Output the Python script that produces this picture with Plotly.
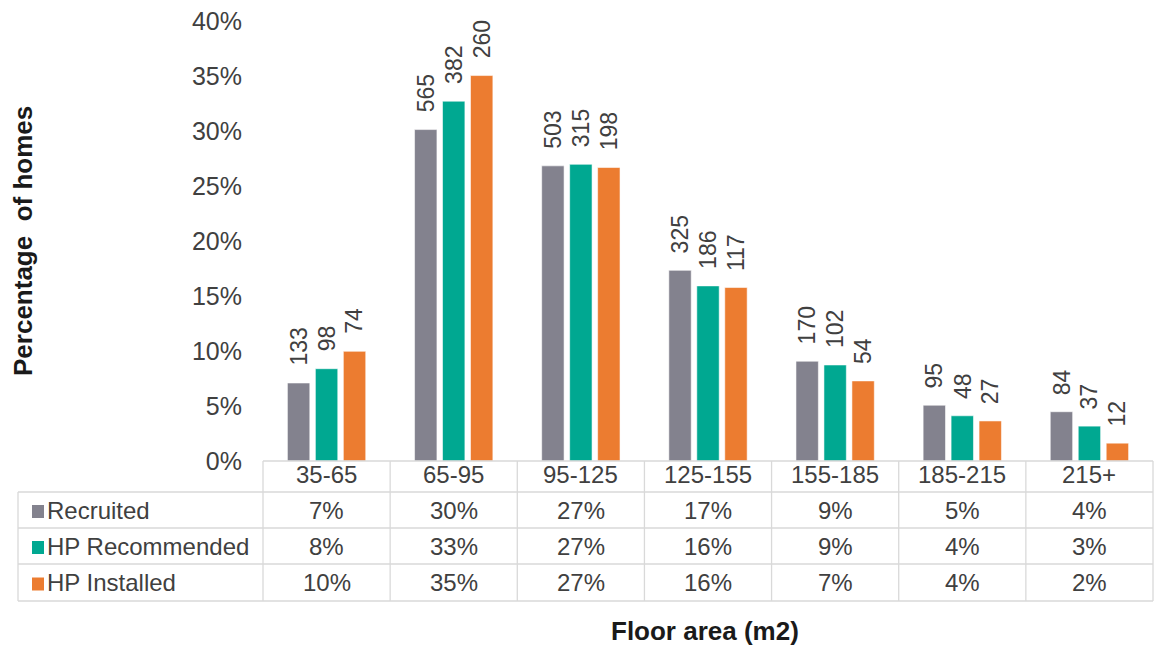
import plotly.graph_objects as go

# ---- data -------------------------------------------------------------
categories = ["35-65", "65-95", "95-125", "125-155", "155-185", "185-215", "215+"]
series_names = ["Recruited", "HP Recommended", "HP Installed"]

recruited_counts = [133, 565, 503, 325, 170, 95, 84]
recommended_counts = [98, 382, 315, 186, 102, 48, 37]
installed_counts = [74, 260, 198, 117, 54, 27, 12]

recruited_pct = [7.09, 30.13, 26.83, 17.33, 9.07, 5.07, 4.48]
recommended_pct = [8.39, 32.71, 26.97, 15.92, 8.73, 4.11, 3.17]
installed_pct = [9.97, 35.04, 26.68, 15.77, 7.28, 3.64, 1.62]

y_ticks = [0, 5, 10, 15, 20, 25, 30, 35, 40]
y_tick_labels = ["0%", "5%", "10%", "15%", "20%", "25%", "30%", "35%", "40%"]

# ---- styling ----------------------------------------------------------
W, H = 1175, 648
M_L, M_R, M_T, M_B = 263, 22, 21, 187
PLOT_W = W - M_L - M_R
PLOT_H = H - M_T - M_B
CAT_W = PLOT_W / len(categories)
BARGAP = 0.34
SLOT = (1 - BARGAP) * CAT_W / 3

FONT = "Liberation Sans, Arial, sans-serif"
TXT = "#404040"
GRID = "#d9d9d9"
colors = ["#83828e", "#00a891", "#ec7c30"]

counts = [recruited_counts, recommended_counts, installed_counts]
pcts = [recruited_pct, recommended_pct, installed_pct]


def py(p):
    """pixel row -> paper y"""
    return (H - M_B - p) / PLOT_H


def px(p):
    """pixel column -> paper x"""
    return (p - M_L) / PLOT_W


fig = go.Figure()
for name, vals, col in zip(series_names, pcts, colors):
    fig.add_trace(go.Bar(
        x=categories, y=vals, name=name,
        marker=dict(color=col, line=dict(color="rgba(255,255,255,0.55)", width=1)),
        showlegend=False, hoverinfo="skip",
    ))

annotations = []
shapes = []

# count labels above the bars
for s, (cnts, vals) in enumerate(zip(counts, pcts)):
    for cat, c, v in zip(categories, cnts, vals):
        annotations.append(dict(
            x=cat, y=v, xref="x", yref="y", text=str(c), showarrow=False,
            textangle=-90, xanchor="center", yanchor="bottom",
            xshift=(s - 1) * SLOT, yshift=15,
            font=dict(family=FONT, size=23, color=TXT),
        ))

# data table below the plot
row_lines = [461, 492, 528, 564, 601]
left_edge = 18
line_style = dict(color=GRID, width=1.3)

# header top border and column dividers
shapes.append(dict(type="line", xref="paper", yref="paper", x0=0, x1=1,
                   y0=py(row_lines[0]), y1=py(row_lines[0]), line=line_style))
for i in range(len(categories) + 1):
    shapes.append(dict(type="line", xref="paper", yref="paper",
                       x0=i / len(categories), x1=i / len(categories),
                       y0=py(row_lines[0]), y1=py(row_lines[-1]), line=line_style))
# row borders incl. label column
for r in row_lines[1:]:
    shapes.append(dict(type="line", xref="paper", yref="paper", x0=px(left_edge), x1=1,
                       y0=py(r), y1=py(r), line=line_style))
shapes.append(dict(type="line", xref="paper", yref="paper", x0=px(left_edge), x1=px(left_edge),
                   y0=py(row_lines[1]), y1=py(row_lines[-1]), line=line_style))

# header: category names
for i, cat in enumerate(categories):
    annotations.append(dict(
        x=(i + 0.5) / len(categories), y=py((row_lines[0] + row_lines[1]) / 2 - 2),
        xref="paper", yref="paper", text=cat, showarrow=False,
        xanchor="center", yanchor="middle",
        font=dict(family=FONT, size=24, color=TXT),
    ))

# series rows: swatch, name and rounded shares
for s, (name, vals, col) in enumerate(zip(series_names, pcts, colors)):
    top, bot = row_lines[s + 1], row_lines[s + 2]
    mid = (top + bot) / 2
    shapes.append(dict(type="rect", xref="paper", yref="paper",
                       x0=px(32), x1=px(44), y0=py(mid - 5), y1=py(mid + 8),
                       fillcolor=col, line=dict(width=0)))
    annotations.append(dict(
        x=px(45), y=py(mid), xref="paper", yref="paper", text=name, showarrow=False,
        xanchor="left", yanchor="middle",
        font=dict(family=FONT, size=24, color=TXT),
    ))
    for i, v in enumerate(vals):
        annotations.append(dict(
            x=(i + 0.5) / len(categories), y=py(mid), xref="paper", yref="paper",
            text=f"{v:.0f}%", showarrow=False, xanchor="center", yanchor="middle",
            font=dict(family=FONT, size=24, color=TXT),
        ))

# axis titles
annotations.append(dict(
    x=px(23), y=py(241), xref="paper", yref="paper",
    text="Percentage\u00a0 of homes", showarrow=False, textangle=-90,
    xanchor="center", yanchor="middle",
    font=dict(family=FONT, size=26, color="#1a1a1a", weight="bold"),
))
annotations.append(dict(
    x=px(705), y=py(631), xref="paper", yref="paper",
    text="Floor area (m2)", showarrow=False, xanchor="center", yanchor="middle",
    font=dict(family=FONT, size=26, color="#1a1a1a", weight="bold"),
))

fig.update_layout(
    width=W, height=H,
    margin=dict(l=M_L, r=M_R, t=M_T, b=M_B, autoexpand=False),
    paper_bgcolor="white", plot_bgcolor="white",
    barmode="group", bargap=BARGAP, bargroupgap=0.2,
    xaxis=dict(showticklabels=False, showgrid=False, showline=False, zeroline=False,
               ticks=""),
    yaxis=dict(range=[0, 40], tickvals=y_ticks, ticktext=y_tick_labels,
               showgrid=False, zeroline=False, showline=False, ticks="",
               ticklabelstandoff=20,
               tickfont=dict(family=FONT, size=25, color=TXT)),
    shapes=shapes,
    annotations=annotations,
)

fig.write_html("out.html")
